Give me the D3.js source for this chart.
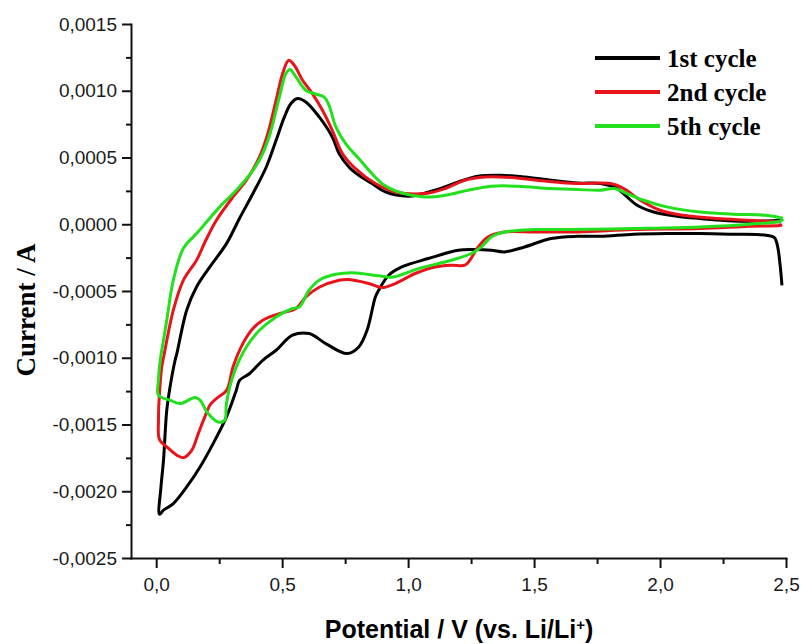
<!DOCTYPE html>
<html>
<head>
<meta charset="utf-8">
<script src="https://cdn.jsdelivr.net/npm/d3@7"></script>
<style>
  body { margin: 0; background: #fff; }
  .axis path, .axis line { stroke: #111; stroke-width: 2px; }
  .axis text { font-family: "Liberation Sans", Arial, sans-serif; font-size: 19px; fill: #1a1a1a; }
</style>
</head>
<body>
<div id="chart"></div>
<script>
// Cyclic voltammetry data: [potential (V), current (A)], cathodic sweep then anodic sweep
var cycle1 = [
  [2.484,-0.000457],[2.476,-0.000294],[2.467,-0.000170],[2.454,-0.000100],[2.421,-0.000082],
  [2.290,-0.000075],[2.158,-0.000070],[2.027,-0.000070],[1.895,-0.000075],[1.764,-0.000090],
  [1.672,-0.000090],[1.567,-0.000107],[1.462,-0.000170],[1.383,-0.000207],[1.330,-0.000195],
  [1.265,-0.000190],[1.199,-0.000195],[1.080,-0.000257],[0.975,-0.000320],[0.923,-0.000382],
  [0.883,-0.000494],[0.870,-0.000545],[0.837,-0.000794],[0.804,-0.000919],[0.758,-0.000969],
  [0.673,-0.000894],[0.607,-0.000819],[0.541,-0.000831],[0.476,-0.000944],[0.423,-0.001019],
  [0.371,-0.001118],[0.331,-0.001169],[0.318,-0.001243],[0.279,-0.001443],[0.226,-0.001643],
  [0.174,-0.001818],[0.121,-0.001968],[0.068,-0.002092],[0.029,-0.002142],[0.013,-0.002172],
  [0.019,-0.001968],[0.029,-0.001768],[0.042,-0.001393],[0.055,-0.001219],[0.075,-0.001019],
  [0.082,-0.000969],[0.121,-0.000644],[0.160,-0.000470],[0.213,-0.000320],[0.279,-0.000145],
  [0.331,0.000045],[0.384,0.000230],[0.437,0.000429],[0.476,0.000629],[0.509,0.000804],
  [0.535,0.000904],[0.561,0.000942],[0.594,0.000916],[0.647,0.000804],[0.699,0.000654],
  [0.726,0.000530],[0.765,0.000429],[0.804,0.000367],[0.857,0.000305],[0.910,0.000242],
  [1.002,0.000210],[1.107,0.000255],[1.199,0.000317],[1.278,0.000360],[1.369,0.000367],
  [1.462,0.000354],[1.567,0.000330],[1.672,0.000309],[1.764,0.000305],[1.830,0.000267],
  [1.869,0.000205],[1.909,0.000142],[1.974,0.000092],[2.066,0.000060],[2.158,0.000043],
  [2.290,0.000025],[2.421,0.000025],[2.480,0.000030]
];

var cycle2 = [
  [2.485,-0.000005],[2.474,-0.000010],[2.355,-0.000015],[2.158,-0.000032],[1.895,-0.000040],
  [1.672,-0.000058],[1.501,-0.000058],[1.383,-0.000058],[1.317,-0.000095],[1.278,-0.000170],
  [1.245,-0.000270],[1.225,-0.000307],[1.172,-0.000307],[1.107,-0.000320],[1.028,-0.000369],
  [0.949,-0.000444],[0.896,-0.000474],[0.844,-0.000444],[0.765,-0.000414],[0.726,-0.000419],
  [0.647,-0.000472],[0.594,-0.000545],[0.555,-0.000631],[0.489,-0.000669],[0.423,-0.000719],
  [0.384,-0.000781],[0.344,-0.000894],[0.305,-0.001069],[0.280,-0.001243],[0.239,-0.001306],
  [0.213,-0.001356],[0.193,-0.001443],[0.167,-0.001568],[0.141,-0.001693],[0.108,-0.001748],
  [0.082,-0.001730],[0.042,-0.001668],[0.013,-0.001613],
  [0.009,-0.001468],[0.013,-0.001268],[0.022,-0.001069],[0.031,-0.000981],[0.068,-0.000644],
  [0.108,-0.000419],[0.160,-0.000270],[0.197,-0.000120],[0.239,0.000030],[0.305,0.000205],
  [0.358,0.000330],[0.410,0.000504],[0.443,0.000679],[0.476,0.000929],[0.502,0.001129],
  [0.526,0.001228],[0.548,0.001191],[0.581,0.001079],[0.620,0.000979],[0.660,0.000854],
  [0.699,0.000704],[0.739,0.000530],[0.791,0.000417],[0.870,0.000305],[0.949,0.000242],
  [1.067,0.000230],[1.146,0.000267],[1.225,0.000330],[1.304,0.000354],[1.409,0.000350],
  [1.541,0.000324],[1.672,0.000305],[1.803,0.000305],[1.856,0.000267],[1.922,0.000180],
  [2.000,0.000105],[2.093,0.000067],[2.224,0.000043],[2.355,0.000030],[2.480,0.000017]
];

var cycle5 = [
  [2.488,0.000040],[2.480,0.000025],[2.355,0.000000],[2.158,-0.000020],[1.895,-0.000032],
  [1.632,-0.000040],[1.501,-0.000040],[1.383,-0.000058],[1.330,-0.000095],[1.291,-0.000170],
  [1.251,-0.000219],[1.172,-0.000270],[1.041,-0.000332],[0.936,-0.000397],[0.883,-0.000386],
  [0.778,-0.000363],[0.713,-0.000375],[0.647,-0.000419],[0.607,-0.000494],[0.568,-0.000619],
  [0.541,-0.000631],[0.476,-0.000694],[0.410,-0.000794],[0.358,-0.000919],[0.318,-0.001069],
  [0.292,-0.001219],[0.278,-0.001356],[0.272,-0.001468],[0.246,-0.001481],[0.206,-0.001418],
  [0.174,-0.001318],[0.154,-0.001298],[0.095,-0.001343],[0.055,-0.001318],[0.009,-0.001281],
  [0.009,-0.001169],[0.016,-0.001019],[0.029,-0.000869],[0.042,-0.000719],[0.068,-0.000419],
  [0.108,-0.000180],[0.160,-0.000070],[0.200,0.000017],[0.252,0.000130],[0.318,0.000255],
  [0.384,0.000404],[0.423,0.000530],[0.456,0.000704],[0.489,0.000954],[0.515,0.001129],
  [0.531,0.001159],[0.555,0.001103],[0.594,0.001004],[0.634,0.000974],[0.666,0.000954],
  [0.686,0.000891],[0.713,0.000729],[0.752,0.000604],[0.804,0.000492],[0.896,0.000305],
  [0.962,0.000242],[1.067,0.000205],[1.146,0.000217],[1.238,0.000255],[1.330,0.000285],
  [1.435,0.000285],[1.567,0.000267],[1.672,0.000260],[1.764,0.000255],[1.817,0.000267],
  [1.869,0.000230],[1.935,0.000180],[2.027,0.000130],[2.158,0.000092],[2.290,0.000075],
  [2.421,0.000067],[2.488,0.000045]
];

var seriesNames = ["1st cycle", "2nd cycle", "5th cycle"];
var seriesColors = ["#000000", "#e8141b", "#22e01e"];

var xTicks = [0, 0.5, 1.0, 1.5, 2.0, 2.5];
var xMinorTicks = [0.25, 0.75, 1.25, 1.75, 2.25];
var yTicks = [-0.0025, -0.002, -0.0015, -0.001, -0.0005, 0, 0.0005, 0.001, 0.0015];
var yMinorTicks = [-0.00225, -0.00175, -0.00125, -0.00075, -0.00025, 0.00025, 0.00075, 0.00125];

var width = 801, height = 644;

var svg = d3.select("#chart").append("svg")
    .attr("width", width)
    .attr("height", height);

// scales: axes meet at bottom-left corner
var x = d3.scaleLinear().domain([-0.1, 2.5]).range([131, 786]);
var y = d3.scaleLinear().domain([-0.0025, 0.0015]).range([558, 24]);

// decimal comma, plain hyphen minus
var locale = d3.formatLocale({decimal: ",", thousands: ".", grouping: [3], currency: ["", ""], minus: "-"});
var fmtX = locale.format(".1f"),
    fmtY = locale.format(".4f");

// minor ticks first, so major axis sits on top
svg.append("g")
    .attr("class", "axis")
    .attr("transform", "translate(0,558)")
    .call(d3.axisBottom(x).tickValues(xMinorTicks).tickSize(6).tickFormat(""))
    .select(".domain").remove();

svg.append("g")
    .attr("class", "axis")
    .attr("transform", "translate(131,0)")
    .call(d3.axisLeft(y).tickValues(yMinorTicks).tickSize(5).tickFormat(""))
    .select(".domain").remove();

svg.append("g")
    .attr("class", "axis")
    .attr("transform", "translate(0,558)")
    .call(d3.axisBottom(x).tickValues(xTicks).tickSize(10).tickPadding(10)
          .tickSizeOuter(0).tickFormat(fmtX));

svg.append("g")
    .attr("class", "axis")
    .attr("transform", "translate(131,0)")
    .call(d3.axisLeft(y).tickValues(yTicks).tickSize(9).tickPadding(5)
          .tickSizeOuter(0).tickFormat(fmtY));

svg.selectAll(".axis .domain").attr("stroke-linecap", "square");

// curves
var line = d3.line()
    .x(function(d) { return x(d[0]); })
    .y(function(d) { return y(d[1]); })
    .curve(d3.curveCatmullRom.alpha(0.5));

var cycles = [cycle1, cycle2, cycle5];

svg.selectAll("path.cv")
    .data(cycles)
    .enter().append("path")
    .attr("class", "cv")
    .attr("d", line)
    .attr("fill", "none")
    .attr("stroke", function(d, i) { return seriesColors[i]; })
    .attr("stroke-width", 3)
    .attr("stroke-linejoin", "round");

// legend
var legend = svg.append("g").attr("class", "legend");

var item = legend.selectAll("g")
    .data(seriesNames)
    .enter().append("g")
    .attr("transform", function(d, i) { return "translate(0," + (58 + i * 34) + ")"; });

item.append("line")
    .attr("x1", 595).attr("x2", 660)
    .attr("y1", 0).attr("y2", 0)
    .attr("stroke", function(d, i) { return seriesColors[i]; })
    .attr("stroke-width", 4);

item.append("text")
    .attr("x", 667)
    .attr("y", 9)
    .text(function(d) { return d; })
    .attr("font-family", "Liberation Serif, 'Times New Roman', serif")
    .attr("font-weight", "bold")
    .attr("font-size", "25px")
    .attr("fill", "#000");

// axis titles
var xTitle = svg.append("text")
    .attr("x", 459)
    .attr("y", 638)
    .attr("text-anchor", "middle")
    .attr("font-family", "Liberation Sans, Arial, sans-serif")
    .attr("font-weight", "bold")
    .attr("font-size", "25px")
    .attr("fill", "#000");

xTitle.append("tspan").text("Potential / V (vs. Li/Li");
xTitle.append("tspan").attr("baseline-shift", "super").attr("font-size", "15px").text("+");
xTitle.append("tspan").text(")");

svg.append("text")
    .attr("transform", "translate(35,310) rotate(-90)")
    .attr("text-anchor", "middle")
    .attr("font-family", "Liberation Serif, 'Times New Roman', serif")
    .attr("font-weight", "bold")
    .attr("font-size", "27px")
    .attr("fill", "#000")
    .text("Current / A");
</script>
</body>
</html>
